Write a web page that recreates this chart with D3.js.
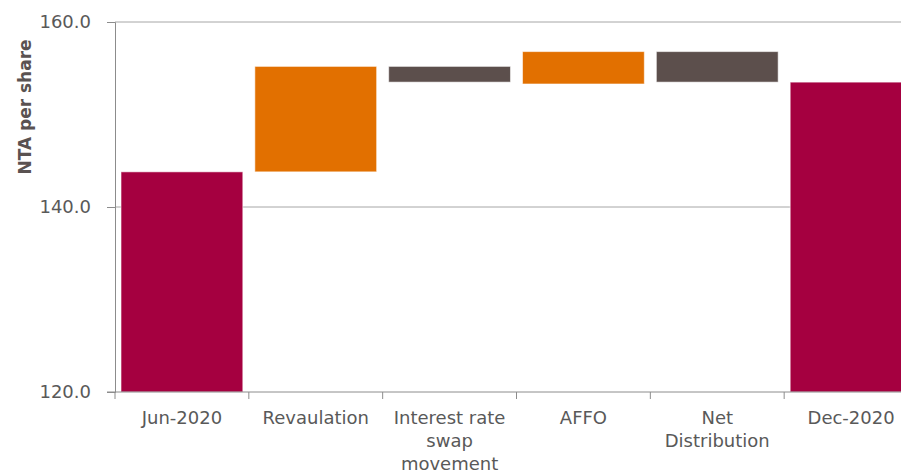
<!DOCTYPE html>
<html>
<head>
<meta charset="utf-8">
<script src="https://cdn.jsdelivr.net/npm/d3@7"></script>
<style>
  html, body { margin: 0; padding: 0; background: #fff; }
  svg { display: block; font-family: "DejaVu Sans", sans-serif; }
</style>
</head>
<body>
<svg id="chart" width="901" height="470"></svg>
<script>
// NTA per share bridge, Jun-2020 to Dec-2020
const categories = ["Jun-2020", "Revaulation", "Interest rate swap movement", "AFFO", "Net Distribution", "Dec-2020"];
const labelLines = [["Jun-2020"], ["Revaulation"], ["Interest rate", "swap", "movement"], ["AFFO"], ["Net", "Distribution"], ["Dec-2020"]];
const barStart = [120.0, 143.8, 155.2, 153.3, 156.8, 120.0];
const barEnd   = [143.8, 155.2, 153.5, 156.8, 153.5, 153.5];
const barKind  = ["total", "up", "down", "up", "down", "total"];
const yTicks   = [120, 140, 160];

const colors = { total: "#A50040", up: "#E27000", down: "#5C4F4C" };
const textColor = "#595959";

const svg = d3.select("#chart");
const plot = { left: 115, right: 918, top: 22, bottom: 392 };

const x = d3.scaleBand()
  .domain(categories)
  .range([plot.left, plot.right])
  .paddingInner(0.09)
  .paddingOuter(0.045);

const y = d3.scaleLinear().domain([120, 160]).range([plot.bottom, plot.top]);

// horizontal gridlines
svg.append("g")
  .selectAll("line")
  .data(yTicks.filter(d => d !== 120))
  .join("line")
  .attr("x1", plot.left).attr("x2", 901)
  .attr("y1", d => y(d)).attr("y2", d => y(d))
  .attr("stroke", "#a6a6a6").attr("stroke-width", 1);

// bars
svg.append("g")
  .selectAll("rect")
  .data(categories)
  .join("rect")
  .attr("x", d => x(d))
  .attr("width", x.bandwidth())
  .attr("y", (d, i) => y(Math.max(barStart[i], barEnd[i])))
  .attr("height", (d, i) => Math.abs(y(barStart[i]) - y(barEnd[i])))
  .attr("fill", (d, i) => colors[barKind[i]])
  .attr("stroke", "rgba(255,255,255,0.55)")
  .attr("stroke-width", 1);

// y axis
const yAxis = d3.axisLeft(y)
  .tickValues(yTicks)
  .tickSize(8)
  .tickPadding(16)
  .tickFormat(d3.format(".1f"));
const gy = svg.append("g").attr("transform", `translate(${plot.left},0)`).call(yAxis);
gy.select(".domain").attr("stroke", "#8c8c8c");
gy.selectAll(".tick line").attr("stroke", "#8c8c8c");
gy.selectAll(".tick text")
  .attr("fill", textColor)
  .attr("font-size", 18)
  .attr("font-family", "DejaVu Sans, sans-serif");

// x axis baseline with ticks at category boundaries
const gx = svg.append("g");
gx.append("line")
  .attr("x1", plot.left - 8).attr("x2", 901)
  .attr("y1", plot.bottom).attr("y2", plot.bottom)
  .attr("stroke", "#8c8c8c");
const boundaries = d3.range(categories.length + 1).map(i => plot.left + i * x.step());
gx.selectAll("line.tk")
  .data(boundaries)
  .join("line")
  .attr("class", "tk")
  .attr("x1", d => d).attr("x2", d => d)
  .attr("y1", plot.bottom).attr("y2", plot.bottom + 7)
  .attr("stroke", "#8c8c8c");

// category labels
const lbl = gx.selectAll("text.cat")
  .data(categories)
  .join("text")
  .attr("class", "cat")
  .attr("text-anchor", "middle")
  .attr("fill", textColor)
  .attr("font-size", 18)
  .attr("transform", d => `translate(${x(d) + x.bandwidth() / 2},${plot.bottom + 32})`);
lbl.selectAll("tspan")
  .data((d, i) => labelLines[i])
  .join("tspan")
  .attr("x", 0)
  .attr("y", (d, j) => j * 23)
  .text(d => d);

// y axis title
svg.append("text")
  .attr("transform", `translate(31,107) rotate(-90)`)
  .attr("text-anchor", "middle")
  .attr("fill", "#5a5251")
  .attr("font-size", 17)
  .attr("font-weight", "bold")
  .text("NTA per share");
</script>
</body>
</html>
